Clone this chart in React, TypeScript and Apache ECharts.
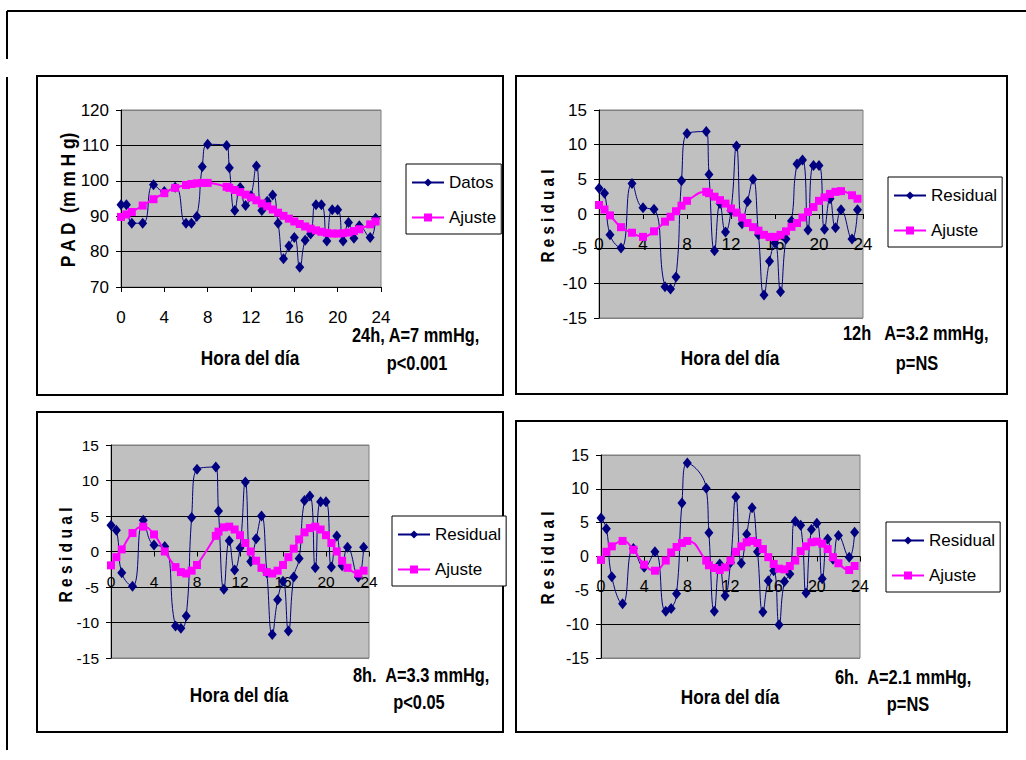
import React, { useEffect, useRef } from "react";
import * as echarts from "echarts";

// ---- data ----
const hours = [0, 0.5, 1, 2, 3, 4, 5, 6, 6.5, 7, 7.5, 8, 9.75, 10, 10.5, 11, 11.5, 12, 12.5, 13, 13.5, 14, 14.5, 15, 15.5, 16, 16.5, 17, 17.5, 18, 18.5, 19, 19.5, 20, 20.5, 21, 21.5, 22, 23, 23.5];

const datos = [93.2, 93.2, 88, 88, 98.9, 97, 98.2, 88, 88, 89.9, 104, 110.3, 110, 103.7, 91.6, 98.1, 93, 95.8, 104.2, 91.6, 94.2, 96, 88, 78, 81.6, 84, 75.6, 83.2, 85, 93.2, 93.2, 83, 91.8, 91.8, 83, 88.2, 83.8, 87.3, 84, 89.4];
const ajuste24 = [89.8, 90.5, 91.2, 93, 94.8, 96.5, 98, 98.8, 99.1, 99.3, 99.4, 99.4, 98.3, 98, 97.4, 96.8, 96.1, 95.3, 94.5, 93.6, 92.8, 91.9, 91.0, 90.1, 89.3, 88.5, 87.8, 87.1, 86.5, 86.0, 85.6, 85.3, 85.1, 85.1, 85.2, 85.4, 85.8, 86.3, 87.7, 88.5];

const residual = [3.7, 3.0, -3.0, -4.9, 4.4, 0.9, 0.7, -10.5, -10.8, -9.1, 4.8, 11.6, 11.9, 5.7, -5.3, 1.5, -2.6, 0.5, 9.8, -1.4, 1.8, 5.0, -3.0, -11.7, -6.8, -4.2, -11.2, -3.6, -1.0, 7.2, 7.8, -2.3, 7.0, 7.0, -2.2, 2.2, -2.0, 0.6, -3.6, 0.6];
const ajuste12 = [1.3, 0.65, -0.2, -1.9, -2.7, -3.3, -2.5, -1.1, -0.4, 0.4, 1.2, 1.9, 3.2, 3.0, 2.5, 2.0, 1.5, 0.8, 0.2, -0.5, -1.3, -1.9, -2.4, -3.0, -3.3, -3.3, -3.0, -2.5, -1.85, -1.3, -0.5, 0.3, 1.0, 1.9, 2.4, 2.9, 3.2, 3.3, 2.7, 2.2];
const ajuste8 = [-1.95, -0.8, 0.3, 2.6, 3.5, 2.4, 0.0, -2.2, -2.9, -3.1, -2.7, -1.9, 2.2, 2.8, 3.4, 3.5, 3.1, 2.3, 1.2, 0.0, -1.3, -2.3, -2.9, -3.1, -2.7, -1.9, -0.8, 0.4, 1.7, 2.7, 3.3, 3.5, 3.1, 2.3, 1.2, 0.0, -1.3, -2.3, -3.1, -2.7];

const residual6 = [5.7, 4.1, -3.0, -7.0, 1.2, -1.6, 0.7, -8.1, -7.7, -5.5, 7.9, 13.8, 10.1, 3.5, -8.1, -1.1, -5.8, -0.9, 8.8, -1.0, 3.3, 7.2, 0.7, -8.2, -3.6, -2.1, -10.1, -3.7, -2.6, 5.2, 4.6, -5.4, 4.0, 4.9, -3.3, 2.6, -0.4, 3.1, -0.1, 3.6];
const ajuste6 = [-0.5, 0.7, 1.5, 2.3, 1.0, -1.2, -2.1, -0.6, 0.6, 1.4, 2.0, 2.3, -0.6, -1.3, -1.7, -2.0, -1.6, -0.6, 0.7, 1.5, 2.1, 2.3, 2.0, 1.1, -0.1, -1.1, -1.8, -1.9, -1.4, -0.6, 0.8, 1.5, 2.1, 2.2, 1.9, 1.1, -0.1, -1.0, -2.0, -1.4];

const xTitle = "Hora del día";
const yTitles = ["P A D  (m m H g)", "R e s i d u a l", "R e s i d u a l", "R e s i d u a l"];
const legendNames = [["Datos", "Ajuste"], ["Residual", "Ajuste"], ["Residual", "Ajuste"], ["Residual", "Ajuste"]];
const notes = [
  ["24h, A=7 mmHg,", "p<0.001"],
  ["12h   A=3.2 mmHg,", "p=NS"],
  ["8h.  A=3.3 mmHg,", "p<0.05"],
  ["6h.  A=2.1 mmHg,", "p=NS"],
];
const panelData = [
  [datos, ajuste24],
  [residual, ajuste12],
  [residual, ajuste8],
  [residual6, ajuste6],
];

// ---- layout ----
const FONT = "'Liberation Sans', Arial, sans-serif";
const grids = [
  { left: 121, top: 110, width: 260, height: 177 },
  { left: 599, top: 110, width: 264, height: 208 },
  { left: 111, top: 445, width: 258, height: 213 },
  { left: 601, top: 455, width: 259, height: 203 },
];
const tickFont = [17, 17, 15.5, 16];
const panels = [
  { x: 37, y: 76, w: 466, h: 319 },
  { x: 516, y: 76, w: 491, h: 318 },
  { x: 37, y: 412, w: 466, h: 320 },
  { x: 516, y: 421, w: 491, h: 311 },
];
const legendPos = [
  { left: 406, top: 164 },
  { left: 888, top: 177 },
  { left: 392, top: 516 },
  { left: 886, top: 522 },
];
const xTitlePos = [[250, 358], [730, 358], [239, 695], [730, 697]];
const yTitlePos = [[68, 200], [547, 216], [65, 555], [547, 558]];
const yTitleSize = [20, 19, 19, 19];
const yTitleScale = [0.87, 0.8, 0.82, 0.8];
const notePos = [
  [352, 335, 417, 363],
  [843, 333, 917, 363],
  [353, 675, 419, 702],
  [835, 677, 908, 704],
];

const pairs = (ys: number[]) => hours.map((h, i) => [h, ys[i]]);

export default function App() {
  const ref = useRef<HTMLDivElement>(null);
  useEffect(() => {
    if (!ref.current) return;
    const chart = echarts.init(ref.current, null, { renderer: "svg" });

    const xAxis = grids.map((g, i) => ({
      type: "value",
      gridIndex: i,
      min: 0,
      max: 24,
      interval: 4,
      position: "bottom",
      // residual panels: axis crosses at y = 0 (middle of the symmetric -15..15 range)
      offset: i === 0 ? 0 : -g.height / 2,
      axisLine: { show: true, onZero: false, lineStyle: { color: "#000", width: 1 } },
      axisTick: { show: true, length: 5, lineStyle: { color: "#000" } },
      axisLabel: { fontFamily: FONT, fontSize: tickFont[i], color: "#000", margin: 22 },
      splitLine: { show: false },
    }));
    const yAxis = grids.map((_, i) => {
      const first = i === 0;
      const n = first ? 6 : 7;
      const colors = Array.from({ length: n }, (_, k) => (k === 0 || k === n - 1 ? "#808080" : "#000"));
      return {
        type: "value",
        gridIndex: i,
        min: first ? 70 : -15,
        max: first ? 120 : 15,
        interval: first ? 10 : 5,
        axisLine: { show: true, onZero: false, lineStyle: { color: "#000", width: 1 } },
        axisTick: { show: true, length: 5, lineStyle: { color: "#000" } },
        axisLabel: { fontFamily: FONT, fontSize: tickFont[i], color: "#000", margin: 12 },
        splitLine: { show: true, lineStyle: { color: colors, width: 1 } },
      };
    });

    const series: any[] = [];
    panelData.forEach(([obs, fit], i) => {
      series.push({
        type: "line",
        name: legendNames[i][0],
        xAxisIndex: i,
        yAxisIndex: i,
        data: pairs(obs),
        smooth: 0.5,
        symbol: "diamond",
        symbolSize: [9, 11],
        showAllSymbol: true,
        lineStyle: { color: "#000080", width: 1 },
        itemStyle: { color: "#000080" },
        z: 3,
        silent: true,
      });
      series.push({
        type: "line",
        name: "Ajuste",
        xAxisIndex: i,
        yAxisIndex: i,
        data: pairs(fit),
        smooth: 0.5,
        symbol: "rect",
        symbolSize: 8,
        showAllSymbol: true,
        lineStyle: { color: "#FF00FF", width: 2 },
        itemStyle: { color: "#FF00FF" },
        z: 4,
        silent: true,
      });
    });

    const legend = legendPos.map((p, i) => ({
      data: legendNames[i],
      left: p.left,
      top: p.top,
      orient: "vertical",
      itemWidth: 32,
      itemHeight: 10,
      itemGap: 18,
      padding: [10, 5, 8, 5],
      borderColor: "#000",
      borderWidth: 1,
      backgroundColor: "#fff",
      selectedMode: false,
      textStyle: { fontFamily: FONT, fontSize: 17, color: "#000" },
    }));

    const graphic: any[] = [
      { type: "line", shape: { x1: 7, y1: 11, x2: 1026, y2: 11 }, style: { stroke: "#000", lineWidth: 2 } },
      { type: "line", shape: { x1: 7, y1: 11, x2: 7, y2: 59 }, style: { stroke: "#000", lineWidth: 2 } },
      { type: "line", shape: { x1: 7, y1: 77, x2: 7, y2: 750 }, style: { stroke: "#000", lineWidth: 2 } },
    ];
    panels.forEach((p, i) => {
      graphic.push({
        type: "rect",
        shape: { x: p.x, y: p.y, width: p.w, height: p.h },
        style: { fill: "none", stroke: "#000", lineWidth: 2 },
        z: -1,
      });
      graphic.push({
        type: "text",
        x: xTitlePos[i][0],
        y: xTitlePos[i][1],
        scaleX: 0.82,
        style: { text: xTitle, fontFamily: FONT, fontWeight: "bold", fontSize: 21, fill: "#000", align: "center", verticalAlign: "middle" },
      });
      graphic.push({
        type: "text",
        x: yTitlePos[i][0],
        y: yTitlePos[i][1],
        rotation: Math.PI / 2,
        scaleX: yTitleScale[i],
        style: { text: yTitles[i], fontFamily: FONT, fontWeight: "bold", fontSize: yTitleSize[i], fill: "#000", align: "center", verticalAlign: "middle" },
      });
      const np = notePos[i];
      graphic.push({
        type: "text",
        x: np[0],
        y: np[1],
        scaleX: 0.82,
        style: { text: notes[i][0], fontFamily: FONT, fontWeight: "bold", fontSize: 20, fill: "#000", align: "left", verticalAlign: "middle" },
      });
      graphic.push({
        type: "text",
        x: np[2],
        y: np[3],
        scaleX: 0.82,
        style: { text: notes[i][1], fontFamily: FONT, fontWeight: "bold", fontSize: 20, fill: "#000", align: "center", verticalAlign: "middle" },
      });
    });

    chart.setOption({
      animation: false,
      backgroundColor: "#fff",
      grid: grids.map((g) => ({ ...g, show: true, backgroundColor: "#C0C0C0", borderColor: "#808080", borderWidth: 1, containLabel: false })),
      xAxis,
      yAxis,
      legend,
      series,
      graphic,
    });
    return () => chart.dispose();
  }, []);
  return <div ref={ref} style={{ position: "absolute", left: 0, top: 0, width: 1026, height: 760 }} />;
}
